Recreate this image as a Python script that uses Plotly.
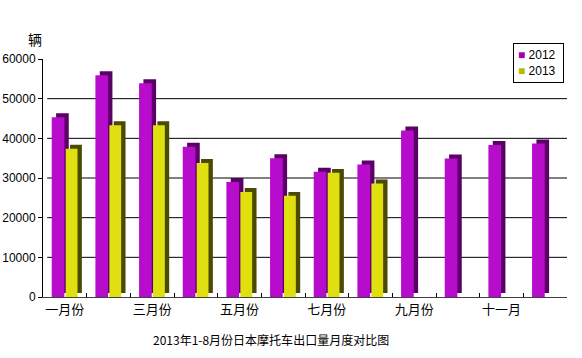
import plotly.graph_objects as go

months = ["一月份", "二月份", "三月份", "四月份", "五月份", "六月份",
          "七月份", "八月份", "九月份", "十月份", "十一月", "十二月"]
tick_labels = ["一月份", "", "三月份", "", "五月份", "", "七月份", "", "九月份", "", "十一月", ""]
v2012 = [45300, 55900, 53900, 37900, 29000, 35000, 31600, 33400, 42000, 34900, 38300, 38700]
v2013 = [37400, 43300, 43300, 33800, 26500, 25500, 31300, 28600, None, None, None, None]
y_ticks = [0, 10000, 20000, 30000, 40000, 50000, 60000]
y_tick_text = ["0", "10000", "20000", "30000", "40000", "50000", "60000"]
grid_vals = [10000, 20000, 30000, 40000, 50000]
series_names = ["2012", "2013"]

DEPTH = 1000
FONT = "Liberation Sans, Arial, sans-serif"
CJK = "Noto Sans CJK SC, sans-serif"
C2012, C2012_SIDE = "#b80ccc", "#5a0066"
C2013, C2013_SIDE = "#e0e010", "#4a4a00"

fig = go.Figure()
fig.add_trace(go.Bar(x=months, y=v2012, base=DEPTH, offset=-0.20, width=0.29,
                     marker=dict(color=C2012_SIDE, line=dict(width=0)),
                     showlegend=False, hoverinfo="skip"))
fig.add_trace(go.Bar(x=months, y=v2012, name=series_names[0], offset=-0.30, width=0.29,
                     marker=dict(color=C2012, line=dict(width=0)), showlegend=False))
fig.add_trace(go.Bar(x=months, y=v2013, base=DEPTH, offset=0.12, width=0.27,
                     marker=dict(color=C2013_SIDE, line=dict(width=0)),
                     showlegend=False, hoverinfo="skip"))
fig.add_trace(go.Bar(x=months, y=v2013, name=series_names[1], offset=0.02, width=0.27,
                     marker=dict(color=C2013, line=dict(width=0)), showlegend=False))

shapes = [dict(type="line", xref="paper", x0=0.008, x1=1, yref="y", y0=g, y1=g,
               line=dict(color="black", width=1), layer="below") for g in grid_vals]

legend_text = (f"<span style='color:#a000b0'>■</span> {series_names[0]} <br>"
               f"<span style='color:#b8b800'>■</span> {series_names[1]} ")

fig.update_layout(
    width=582, height=358,
    margin=dict(l=43, r=15, t=59, b=61, autoexpand=False),
    paper_bgcolor="white", plot_bgcolor="white",
    barmode="overlay",
    font=dict(family=FONT, size=12, color="black"),
    shapes=shapes,
    showlegend=False,
    xaxis=dict(type="category", tickmode="array", tickvals=months, ticktext=tick_labels,
               tickson="boundaries", ticks="inside", ticklen=4, tickcolor="black",
               showline=True, linecolor="#404040", linewidth=1, showgrid=False,
               tickangle=0, automargin=False,
               tickfont=dict(family=CJK, size=13), range=[-0.5, 11.5]),
    yaxis=dict(range=[0, 60000], tickvals=y_ticks, ticktext=y_tick_text,
               ticks="outside", ticklen=4, automargin=False,
               tickcolor="black", showline=True, linecolor="black", linewidth=1,
               showgrid=False, zeroline=False, tickfont=dict(family=FONT, size=12)),
    annotations=[
        dict(text="辆", xref="paper", yref="paper", x=-0.015, y=1.084, xanchor="center",
             yanchor="middle", showarrow=False, font=dict(family=CJK, size=14)),
        dict(text="2013年1-8月份日本摩托车出口量月度对比图", xref="paper", yref="paper",
             x=0.436, y=-0.18, xanchor="center", yanchor="middle", showarrow=False,
             font=dict(family=CJK, size=12)),
        dict(text=legend_text, xref="paper", yref="paper", x=0.897, y=1.067,
             xanchor="left", yanchor="top", align="left", showarrow=False,
             bordercolor="black", borderwidth=1, borderpad=4, bgcolor="white",
             font=dict(family=FONT, size=12)),
    ],
)

fig.write_html("out.html", config={"displayModeBar": False},
               post_script="document.body.style.margin='0px';")
